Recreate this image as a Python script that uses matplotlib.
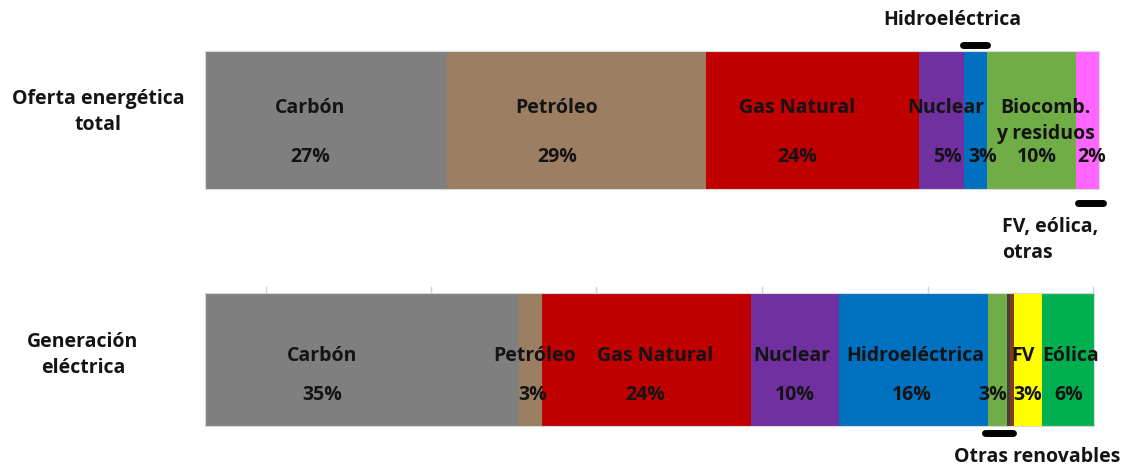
import matplotlib
matplotlib.use("Agg")
import matplotlib.pyplot as plt

# ---- data ----
row_labels = ["Oferta energética\ntotal", "Generación\neléctrica"]

top_names = ["Carbón", "Petróleo", "Gas Natural", "Nuclear", "Hidroeléctrica",
             "Biocomb. y residuos", "FV, eólica, otras"]
top_values = [27.1, 29.1, 23.9, 5.0, 2.6, 9.9, 2.6]
top_pct = ["27%", "29%", "24%", "5%", "3%", "10%", "2%"]
top_colors = ["#7F7F7F", "#9C7F62", "#C00000", "#7030A0", "#0070C0", "#70AD47", "#FF66FF"]

bot_names = ["Carbón", "Petróleo", "Gas Natural", "Nuclear", "Hidroeléctrica",
             "Otras renovables", "Otras (a)", "Otras (b)", "FV", "Eólica"]
bot_values = [35.2, 2.6, 23.4, 9.9, 16.7, 2.1, 0.35, 0.45, 3.1, 5.9]
bot_pct = ["35%", "3%", "24%", "10%", "16%", "3%", "", "", "3%", "6%"]
bot_colors = ["#7F7F7F", "#9C7F62", "#C00000", "#7030A0", "#0070C0", "#70AD47",
              "#404040", "#843C0C", "#FFFF00", "#00B050"]

grid_x = [6.8, 25.3, 43.8, 62.4, 81.1, 99.6]

W, H = 1125, 466
fig = plt.figure(figsize=(W / 100, H / 100), dpi=100)
ax = fig.add_axes([0, 0, 1, 1])
px = 8.92  # pixels per percent
x0 = 205
ax.set_xlim(-x0 / px, (W - x0) / px)
ax.set_ylim(H, 0)
ax.axis("off")

FONT = "Open Sans"
TC = "#141414"
fs = 14

def txt(x, y, s, ha="center", size=fs):
    ax.text(x, y, s, ha=ha, va="center", fontsize=size, fontweight="bold",
            color=TC, family=FONT, linespacing=1.45)

# gridline stubs above the bottom bar
for g in grid_x:
    ax.plot([g, g], [287, 293.5], color="#D0D0D0", lw=1, zorder=0)

# bars
y_top, h_top = 120, 138
y_bot, h_bot = 359.5, 133
left = 0
for v, c in zip(top_values, top_colors):
    ax.barh(y_top, v, left=left, height=h_top, color=c, edgecolor="none", zorder=2)
    left += v
left = 0
for v, c in zip(bot_values, bot_colors):
    ax.barh(y_bot, v, left=left, height=h_bot, color=c, edgecolor="none", zorder=2)
    left += v
# faint outlines
ax.barh(y_top, sum(top_values), height=h_top, color="none", edgecolor="#D9D9D9", lw=0.8, zorder=3)
ax.barh(y_bot, sum(bot_values), height=h_bot, color="none", edgecolor="#D9D9D9", lw=0.8, zorder=3)

def X(p):
    return (p - x0) / px

# row labels
txt(X(98), 112, row_labels[0])
txt(X(83), 355, row_labels[1])

# top bar labels
txt(X(310), 108, top_names[0]); txt(X(310), 157, top_pct[0])
txt(X(557), 108, top_names[1]); txt(X(557), 157, top_pct[1])
txt(X(797), 108, top_names[2]); txt(X(797), 157, top_pct[2])
txt(X(946), 108, top_names[3]); txt(X(947), 157, top_pct[3])
txt(X(983), 157, top_pct[4])
txt(X(1045), 121, "Biocomb.\ny residuos")
txt(X(1037), 157, top_pct[5])
txt(X(1092), 157, top_pct[6])
txt(X(952), 20, top_names[4])
ax.plot([X(963), X(987)], [45, 45], color="black", lw=5, solid_capstyle="round", zorder=4)
ax.plot([X(1078), X(1103)], [203, 203], color="black", lw=5, solid_capstyle="round", zorder=4)
txt(X(1002), 240, "FV, eólica,\notras", ha="left")

# bottom bar labels
txt(X(322), 356, bot_names[0]); txt(X(322), 395, bot_pct[0])
txt(X(535), 356, bot_names[1]); txt(X(533), 395, bot_pct[1])
txt(X(655), 356, bot_names[2]); txt(X(645), 395, bot_pct[2])
txt(X(792), 356, bot_names[3]); txt(X(795), 395, bot_pct[3])
txt(X(915), 356, bot_names[4]); txt(X(912), 395, bot_pct[4])
txt(X(993), 395, bot_pct[5])
txt(X(1023), 356, bot_names[8]); txt(X(1028), 395, bot_pct[8])
txt(X(1071), 356, bot_names[9]); txt(X(1069), 395, bot_pct[9])
ax.plot([X(985), X(1013)], [433, 433], color="black", lw=5, solid_capstyle="round", zorder=4)
txt(X(1037), 457, bot_names[5])

fig.savefig("out.png", dpi=100)
